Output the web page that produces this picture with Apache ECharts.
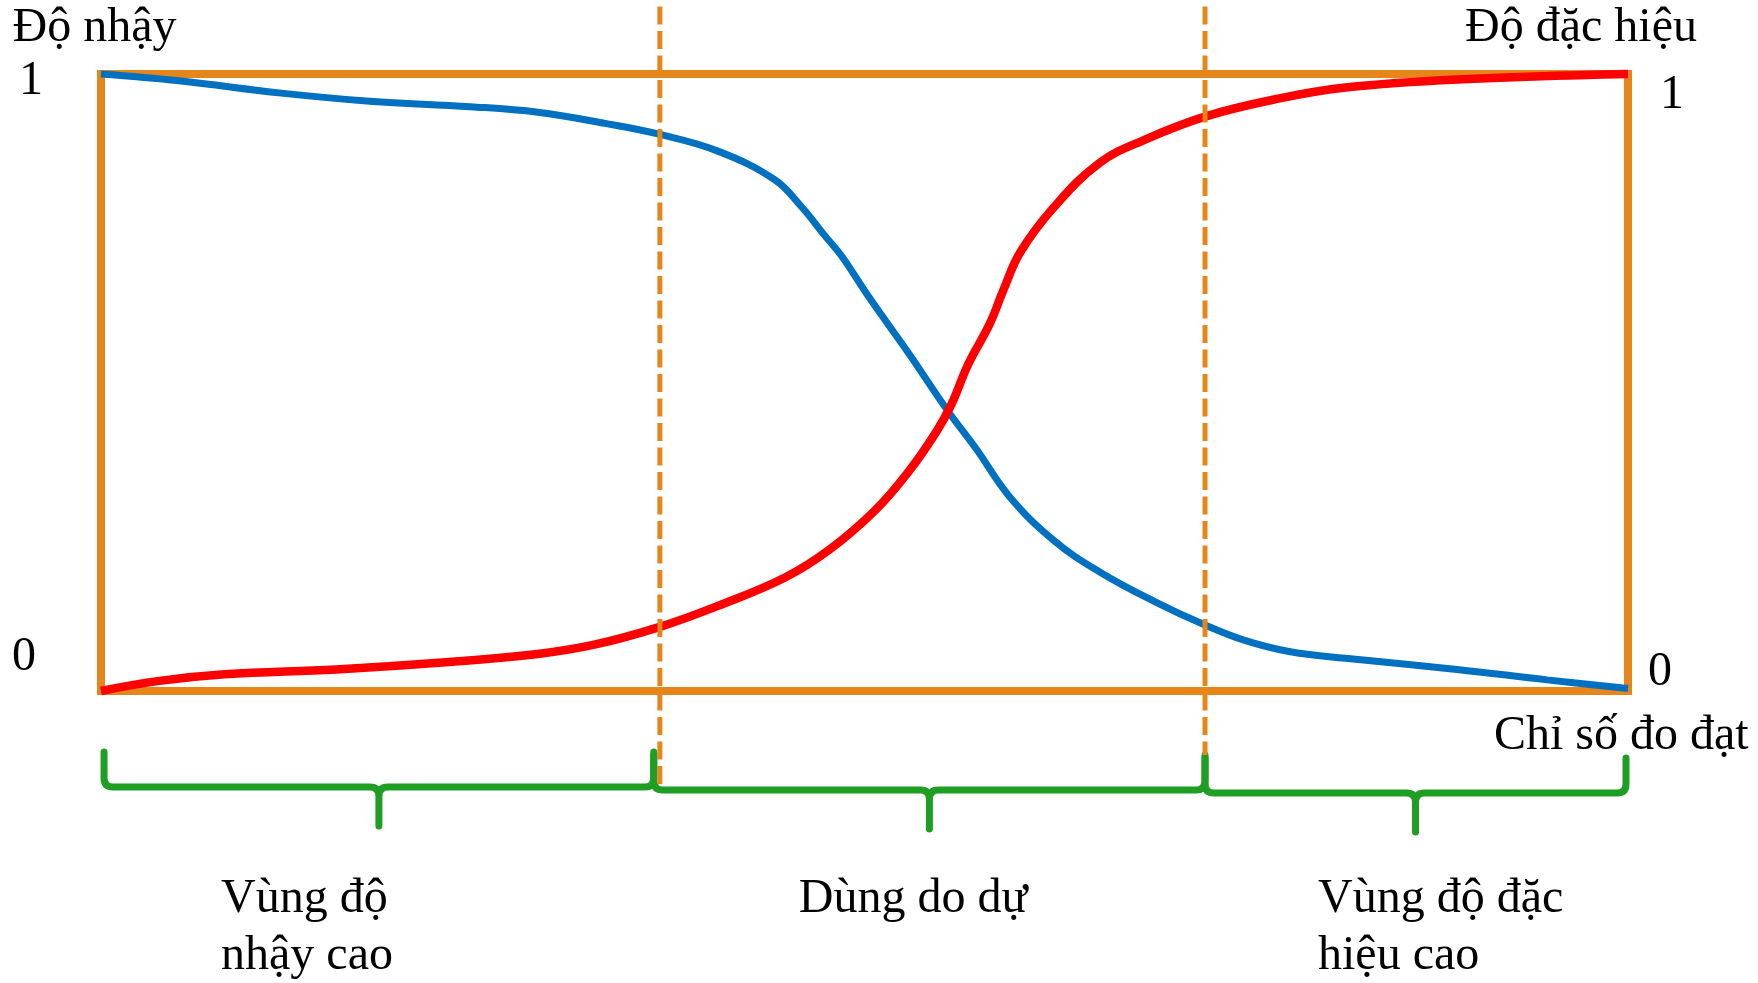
<!DOCTYPE html>
<html>
<head>
<meta charset="utf-8">
<title>Độ nhậy - Độ đặc hiệu</title>
<script src="https://cdn.jsdelivr.net/npm/echarts@6/dist/echarts.min.js"></script>
<style>
  html, body { margin: 0; padding: 0; background: #fff; }
  #chart { width: 1758px; height: 983px; }
</style>
</head>
<body>
<div id="chart"></div>
<script>
// chỉ số đo đạt (0..100) và độ nhậy
const sensitivityX = [0, 5.1, 11.8, 17.6, 24.2, 28.6, 33.0, 36.6, 40.4, 44.1, 45.9, 47.4, 48.5, 50.3, 52.9, 55.4, 57.3, 59.5, 62.4, 65.4, 69.0, 72.3, 74.9, 77.8, 81.5, 88.8, 94.7, 100];
const sensitivity = [1.000, 0.989, 0.969, 0.956, 0.947, 0.938, 0.920, 0.902, 0.875, 0.829, 0.784, 0.738, 0.705, 0.638, 0.547, 0.456, 0.393, 0.315, 0.244, 0.193, 0.145, 0.107, 0.082, 0.064, 0.053, 0.035, 0.018, 0.004];

// chỉ số đo đạt và độ đặc hiệu
const specificityX = [0, 3.7, 8.1, 15.4, 22.8, 28.6, 32.3, 36.6, 40.4, 44.8, 47.7, 50.7, 52.9, 54.7, 55.7, 56.8, 58.2, 59.1, 60.2, 62.4, 65.4, 68.3, 72.3, 77.1, 81.5, 88.8, 100];
const specificity = [0.000, 0.016, 0.027, 0.035, 0.047, 0.060, 0.075, 0.104, 0.138, 0.184, 0.229, 0.293, 0.356, 0.420, 0.465, 0.530, 0.595, 0.650, 0.711, 0.784, 0.856, 0.893, 0.931, 0.960, 0.978, 0.991, 1.000];

// ngưỡng chia vùng (đường đứt nét)
const cutoffs = [36.6, 72.3];

// các vùng (ngoặc nhọn) và tên vùng
const regionStart = [0.2, 36.2, 72.3];
const regionEnd = [36.2, 72.3, 99.87];
const regionNames = ['Vùng độ\nnhậy cao', 'Dùng do dự', 'Vùng độ đặc\nhiệu cao'];

const tickLabels = ['0', '1'];
const leftAxisName = 'Độ nhậy';
const rightAxisName = 'Độ đặc hiệu';
const xAxisName = 'Chỉ số đo đạt';

// styles
const FONT = "'Liberation Serif', 'Times New Roman', serif";
const ORANGE = '#E6851A';
const BLUE = '#0070C0';
const RED = '#FF0000';
const GREEN = '#1E9E23';

// layout tweaks (pixels)
const dividerReach = [94, 64];     // how far the dashed line goes below the box
const braceDrop = [96, 99, 102];   // brace bar below the box
const labelIndent = [117, 145, 113];

function zip(xs, ys) {
  return xs.map((x, i) => [x, ys[i]]);
}

const chart = echarts.init(document.getElementById('chart'), null, { renderer: 'canvas' });

const textBase = { fontFamily: FONT, fontSize: 48, color: '#000' };

const option = {
  animation: false,
  backgroundColor: '#fff',
  grid: {
    left: 101,
    right: 130,
    top: 74,
    bottom: 292,
    show: true,
    borderColor: ORANGE,
    borderWidth: 8,
    backgroundColor: 'transparent',
    containLabel: false,
    outerBoundsMode: 'none'
  },
  // tên trục hoành, đặt dưới góc phải của khung
  graphic: [
    {
      type: 'text',
      x: 1494,
      y: 736,
      style: {
        text: xAxisName,
        fontFamily: FONT,
        fontSize: 48,
        fill: '#000',
        align: 'left',
        verticalAlign: 'middle'
      }
    }
  ],
  xAxis: {
    type: 'value',
    min: 0,
    max: 100,
    axisLine: { show: false },
    axisTick: { show: false },
    axisLabel: { show: false },
    splitLine: { show: false }
  },
  yAxis: [
    {
      type: 'value',
      position: 'left',
      min: 0,
      max: 1,
      interval: 1,
      name: leftAxisName,
      nameLocation: 'end',
      nameGap: 46,
      nameTextStyle: Object.assign({}, textBase, { align: 'center', verticalAlign: 'middle', padding: [0, 13, 0, 0] }),
      axisLine: { show: false },
      axisTick: { show: false },
      splitLine: { show: false },
      axisLabel: {
        margin: 58,
        formatter: function (value) {
          return value === 0 ? '{lo|' + tickLabels[0] + '}' : '{hi|' + tickLabels[1] + '}';
        },
        rich: {
          lo: Object.assign({}, textBase, { padding: [0, 7, 67, 0] }),
          hi: Object.assign({}, textBase, { padding: [15, 0, 0, 0] })
        }
      }
    },
    {
      type: 'value',
      position: 'right',
      min: 0,
      max: 1,
      interval: 1,
      name: rightAxisName,
      nameLocation: 'end',
      nameGap: 46,
      nameTextStyle: Object.assign({}, textBase, { align: 'center', verticalAlign: 'middle', padding: [0, 94, 0, 0] }),
      axisLine: { show: false },
      axisTick: { show: false },
      splitLine: { show: false },
      axisLabel: {
        margin: 20,
        formatter: function (value) {
          return value === 0 ? '{lo|' + tickLabels[0] + '}' : '{hi|' + tickLabels[1] + '}';
        },
        rich: {
          lo: Object.assign({}, textBase, { padding: [0, 0, 37, 0] }),
          hi: Object.assign({}, textBase, { padding: [43, 0, 0, 12] })
        }
      }
    }
  ],
  series: [
    {
      name: leftAxisName,
      type: 'line',
      yAxisIndex: 0,
      data: zip(sensitivityX, sensitivity),
      smooth: 0.4,
      showSymbol: false,
      clip: false,
      lineStyle: { color: BLUE, width: 7 },
      z: 3
    },
    {
      name: rightAxisName,
      type: 'line',
      yAxisIndex: 1,
      data: zip(specificityX, specificity),
      smooth: 0.4,
      showSymbol: false,
      clip: false,
      lineStyle: { color: RED, width: 8.5 },
      z: 3
    },
    {
      // đường đứt nét chia vùng
      type: 'custom',
      xAxisIndex: 0,
      yAxisIndex: 0,
      data: cutoffs.map(v => [v]),
      encode: { x: 0 },
      z: 5,
      renderItem: function (params, api) {
        const x = api.coord([api.value(0), 0])[0];
        const bottom = api.coord([0, 0])[1] + dividerReach[params.dataIndex];
        return {
          type: 'line',
          shape: { x1: x, y1: -18, x2: x, y2: bottom },
          style: { stroke: ORANGE, lineWidth: 5, lineDash: [18, 6.5] }
        };
      }
    },
    {
      // ngoặc nhọn và tên vùng
      type: 'custom',
      xAxisIndex: 0,
      yAxisIndex: 0,
      data: regionStart.map((s, i) => [s, regionEnd[i]]),
      encode: { x: [0, 1] },
      z: 4,
      renderItem: function (params, api) {
        const i = params.dataIndex;
        const xa = api.coord([api.value(0), 0])[0];
        const xb = api.coord([api.value(1), 0])[0];
        const base = api.coord([0, 0])[1];
        const yh = base + braceDrop[i];
        const xm = (xa + xb) / 2;
        const r = 9;
        const d = [
          'M', xa, yh - 35,
          'L', xa, yh - r,
          'Q', xa, yh, xa + r, yh,
          'L', xm - r, yh,
          'Q', xm, yh, xm, yh + r,
          'L', xm, yh + 39,
          'L', xm, yh + r,
          'Q', xm, yh, xm + r, yh,
          'L', xb - r, yh,
          'Q', xb, yh, xb, yh - r,
          'L', xb, yh - 35
        ].join(' ');
        return {
          type: 'group',
          children: [
            {
              type: 'path',
              shape: { pathData: d },
              style: { fill: 'none', stroke: GREEN, lineWidth: 7, lineCap: 'round', lineJoin: 'round' }
            },
            {
              type: 'text',
              x: xa + labelIndent[i],
              y: base + 180,
              style: {
                text: regionNames[i],
                fontFamily: FONT,
                fontSize: 48,
                lineHeight: 57,
                fill: '#000',
                align: 'left',
                verticalAlign: 'top'
              }
            }
          ]
        };
      }
    }
  ]
};

chart.setOption(option);
</script>
</body>
</html>
